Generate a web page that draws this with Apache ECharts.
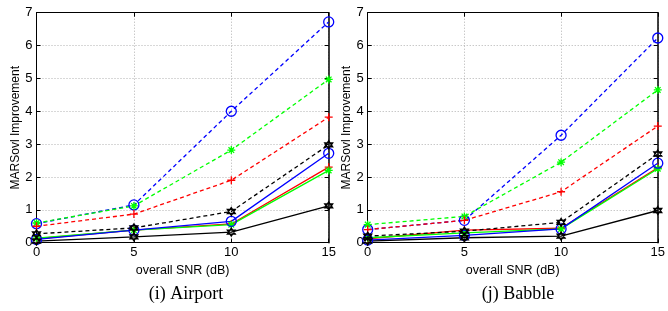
<!DOCTYPE html>
<html>
<head>
<meta charset="utf-8">
<script src="https://cdn.jsdelivr.net/npm/echarts@6/dist/echarts.min.js"></script>
<style>
html,body{margin:0;padding:0;background:#fff;}
#main{width:668px;height:311px;}
</style>
</head>
<body>
<div id="main"></div>
<script>
// data
var snr = [0, 5, 10, 15];
var yTicks = [0, 1, 2, 3, 4, 5, 6, 7];
var captions = ['(i) Airport', '(j) Babble'];

// Airport
var airBlueDash  = [0.58, 1.15, 4.00, 6.72];
var airGreenDash = [0.60, 1.12, 2.82, 4.97];
var airRedDash   = [0.50, 0.87, 1.90, 3.82];
var airBlackDash = [0.27, 0.45, 0.95, 2.98];
var airBlue  = [0.10, 0.38, 0.65, 2.72];
var airRed   = [0.12, 0.38, 0.57, 2.30];
var airGreen = [0.14, 0.38, 0.55, 2.20];
var airBlack = [0.05, 0.18, 0.32, 1.12];

// Babble
var babBlueDash  = [0.40, 0.68, 3.27, 6.23];
var babGreenDash = [0.55, 0.80, 2.45, 4.65];
var babRedDash   = [0.40, 0.68, 1.55, 3.55];
var babBlackDash = [0.20, 0.35, 0.62, 2.70];
var babBlue  = [0.08, 0.22, 0.42, 2.42];
var babRed   = [0.12, 0.38, 0.44, 2.28];
var babGreen = [0.15, 0.30, 0.42, 2.25];
var babBlack = [0.05, 0.15, 0.20, 0.98];

var symCirc = 'path://M10,5A5,5,0,1,1,0,5A5,5,0,1,1,10,5Z';
var symPlus = 'path://M5,0L5,10M0,5L10,5';
var symStar = 'path://M5,0L5,10M0,5L10,5M1.5,1.5L8.5,8.5M8.5,1.5L1.5,8.5';
var symHex  = 'path://M5,0L9.33,7.5L0.67,7.5ZM5,10L0.67,2.5L9.33,2.5Z';

function pts(ys){
    return snr.map(function(x,i){ return [x, ys[i]]; });
}

function line(idx, ys, color, dashed, sym){
    return {
        type:'line',
        xAxisIndex: idx*2, yAxisIndex: idx*2,
        data: pts(ys),
        lineStyle:{color:color, width:1.3, type: dashed ? [4,3] : 'solid'},
        symbol: sym,
        symbolSize: sym == symCirc ? 10 : 8,
        itemStyle:{color:'none', borderColor:color, borderWidth:1.3},
        animation:false,
        z: dashed ? 3 : 2
    };
}

var gridLeft = [36.5, 367.7];
var fontAx = 'Liberation Sans';

var xAxes = [], yAxes = [], grids = [];
for (var g = 0; g < 2; g++) {
    grids.push({left:gridLeft[g], width:292.2, top:12.7, height:230});
    xAxes.push({
        type:'value', gridIndex:g, min:0, max:15, interval:5,
        name:'overall SNR (dB)', nameLocation:'middle', nameGap:15,
        nameTextStyle:{fontFamily:fontAx, fontSize:12.5, color:'#000'},
        axisLine:{onZero:false, lineStyle:{color:'#000', width:1}},
        axisTick:{inside:true, length:4, lineStyle:{color:'#000'}},
        axisLabel:{fontFamily:fontAx, fontSize:13, color:'#000', margin:3},
        splitLine:{show:true, lineStyle:{color:'#b0b0b0', type:[1,2], width:1}}
    });
    // top frame
    xAxes.push({
        type:'value', gridIndex:g, position:'top', min:0, max:15, interval:5,
        axisLine:{onZero:false, lineStyle:{color:'#000', width:1}},
        axisTick:{inside:true, length:4, lineStyle:{color:'#000'}},
        axisLabel:{show:false}, splitLine:{show:false}
    });
    yAxes.push({
        type:'value', gridIndex:g, min:0, max:7, interval:1,
        name:'MARSovl Improvement', nameLocation:'middle', nameGap:13,
        nameTextStyle:{fontFamily:fontAx, fontSize:12, color:'#000'},
        axisLine:{onZero:false, lineStyle:{color:'#000', width:1}},
        axisTick:{inside:true, length:4, lineStyle:{color:'#000'}},
        axisLabel:{fontFamily:fontAx, fontSize:13, color:'#000', margin:4,
            formatter:function(v){ return yTicks.indexOf(v) >= 0 ? String(v) : ''; }},
        splitLine:{show:true, lineStyle:{color:'#b0b0b0', type:[1,2], width:1}}
    });
    // right frame
    yAxes.push({
        type:'value', gridIndex:g, position:'right', min:0, max:7, interval:1,
        axisLine:{onZero:false, lineStyle:{color:'#000', width:1.5}},
        axisTick:{inside:true, length:4, lineStyle:{color:'#000'}},
        axisLabel:{show:false}, splitLine:{show:false}
    });
}

var chart = echarts.init(document.getElementById('main'), null, {renderer:'canvas'});
chart.setOption({
    backgroundColor:'#fff',
    animation:false,
    title:[
        {text:captions[0], left:181, top:280, textAlign:'center', textStyle:{fontFamily:'Liberation Serif', fontSize:18, fontWeight:'normal', color:'#000'}},
        {text:captions[1], left:513, top:280, textAlign:'center', textStyle:{fontFamily:'Liberation Serif', fontSize:18, fontWeight:'normal', color:'#000'}}
    ],
    grid:grids,
    xAxis:xAxes,
    yAxis:yAxes,
    series:[
        line(0, airBlueDash, '#0000ff', true, symCirc),
        line(0, airGreenDash, '#00ff00', true, symStar),
        line(0, airRedDash, '#ff0000', true, symPlus),
        line(0, airBlackDash, '#000000', true, symHex),
        line(0, airRed, '#ff0000', false, symPlus),
        line(0, airGreen, '#00ff00', false, symStar),
        line(0, airBlue, '#0000ff', false, symCirc),
        line(0, airBlack, '#000000', false, symHex),
        line(1, babBlueDash, '#0000ff', true, symCirc),
        line(1, babGreenDash, '#00ff00', true, symStar),
        line(1, babRedDash, '#ff0000', true, symPlus),
        line(1, babBlackDash, '#000000', true, symHex),
        line(1, babRed, '#ff0000', false, symPlus),
        line(1, babGreen, '#00ff00', false, symStar),
        line(1, babBlue, '#0000ff', false, symCirc),
        line(1, babBlack, '#000000', false, symHex)
    ]
});
</script>
</body>
</html>
